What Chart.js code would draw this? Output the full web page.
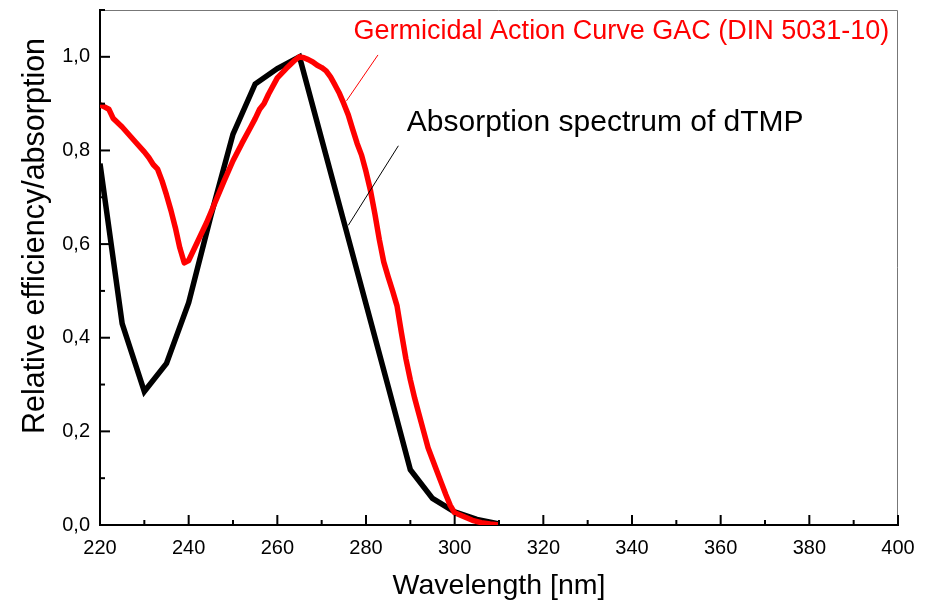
<!DOCTYPE html>
<html>
<head>
<meta charset="utf-8">
<script src="https://cdn.jsdelivr.net/npm/chart.js@4"></script>
<style>
  html, body { margin: 0; padding: 0; background: #fff; }
  #wrap { width: 928px; height: 603px; }
</style>
</head>
<body>
<div id="wrap"><canvas id="chart"></canvas></div>
<script>
// absorption spectrum of dTMP (black)
let dtmpWavelengths = [220, 225, 230, 235, 240, 245, 250, 255, 260, 265, 270, 275, 280, 285, 290, 295, 300, 305, 310];
let dtmpValues = [0.772, 0.43, 0.285, 0.345, 0.475, 0.66, 0.835, 0.942, 0.975, 1.0, 0.824, 0.648, 0.472, 0.296, 0.118, 0.057, 0.028, 0.012, 0.002];

// germicidal action curve GAC, DIN 5031-10 (red)
let gacWavelengths = [220, 221, 222, 223, 225, 228, 230, 231, 232, 233, 234, 235, 236, 237, 238, 239, 240, 242, 244, 246, 248, 250, 252, 254, 255, 256, 257, 258, 260, 262, 264, 265,
    266, 267, 268, 269, 270, 271, 272, 273, 274, 275, 276, 277, 278, 279, 280, 281, 282, 283, 284, 285, 286, 287, 288, 289, 290,
    291, 292, 293, 294, 295, 296, 297, 298, 299, 300, 302, 304, 306, 308, 310];
let gacValues = [0.898, 0.893, 0.888, 0.868, 0.85, 0.818, 0.797, 0.785, 0.77, 0.76, 0.735, 0.705, 0.672, 0.635, 0.592, 0.56, 0.565, 0.605, 0.645, 0.69, 0.735, 0.778, 0.815, 0.85, 0.868, 0.888, 0.9, 0.92, 0.955, 0.975, 0.993, 1.0,
    0.998, 0.994, 0.989, 0.982, 0.977, 0.97, 0.957, 0.94, 0.922, 0.9, 0.876, 0.845, 0.815, 0.79, 0.755, 0.715, 0.665, 0.61, 0.562, 0.53, 0.5, 0.468, 0.41, 0.355, 0.31,
    0.27, 0.235, 0.2, 0.165, 0.14, 0.115, 0.09, 0.065, 0.042, 0.026, 0.018, 0.01, 0.005, 0.002, 0.0];

let xTickLabels = ["220", "240", "260", "280", "300", "320", "340", "360", "380", "400"];
let yTickLabels = ["0,0", "0,2", "0,4", "0,6", "0,8", "1,0"];

// annotation text + leader line, given in data units
let notes = [
    { text: "Germicidal Action Curve GAC (DIN 5031-10)", color: "#ff0000", size: 27, x: 277.2, y: 1.054, from: [282.7, 1.004], to: [275.6, 0.906] },
    { text: "Absorption spectrum of dTMP", color: "#000000", size: 30, x: 289.2, y: 0.86, from: [287.3, 0.81], to: [276.0, 0.64] }
];

function toPoints(xs, ys) {
    return xs.map((x, i) => ({ x: x, y: ys[i] }));
}

let fontFamily = "'Liberation Sans', Arial, sans-serif";

// inward ticks, thin frame, y title and the two labels
let decorations = {
    id: "decorations",
    afterDraw(chart) {
        let ctx = chart.ctx;
        let xs = chart.scales.x, ys = chart.scales.y;
        let area = chart.chartArea;
        ctx.save();

        // thin frame on top and right
        ctx.strokeStyle = "#777";
        ctx.lineWidth = 1;
        ctx.beginPath();
        ctx.moveTo(area.left, area.top + 0.5);
        ctx.lineTo(area.right - 0.5, area.top + 0.5);
        ctx.lineTo(area.right - 0.5, area.bottom);
        ctx.stroke();

        ctx.strokeStyle = "#000";
        ctx.lineWidth = 2;
        xs.ticks.forEach((t, i) => {
            let px = xs.getPixelForTick(i);
            let len = (t.value - 220) % 20 === 0 ? 10 : 5;
            ctx.beginPath();
            ctx.moveTo(px, area.bottom);
            ctx.lineTo(px, area.bottom - len);
            ctx.stroke();
        });
        ys.ticks.forEach((t, i) => {
            let py = ys.getPixelForTick(i);
            let len = Math.round(t.value * 10) % 2 === 0 ? 10 : 5;
            ctx.beginPath();
            ctx.moveTo(area.left, py);
            ctx.lineTo(area.left + len, py);
            ctx.stroke();
        });

        // y axis title
        ctx.fillStyle = "#000";
        ctx.font = "30.5px " + fontFamily;
        ctx.textAlign = "center";
        ctx.textBaseline = "middle";
        ctx.translate(36, 236);
        ctx.rotate(-Math.PI / 2);
        ctx.fillText("Relative efficiency/absorption", 0, 0);
        ctx.setTransform(1, 0, 0, 1, 0, 0);

        notes.forEach(n => {
            ctx.strokeStyle = n.color;
            ctx.lineWidth = 1;
            ctx.beginPath();
            ctx.moveTo(xs.getPixelForValue(n.from[0]), ys.getPixelForValue(n.from[1]));
            ctx.lineTo(xs.getPixelForValue(n.to[0]), ys.getPixelForValue(n.to[1]));
            ctx.stroke();
            ctx.fillStyle = n.color;
            ctx.font = n.size + "px " + fontFamily;
            ctx.textAlign = "left";
            ctx.textBaseline = "middle";
            ctx.fillText(n.text, xs.getPixelForValue(n.x), ys.getPixelForValue(n.y));
        });
        ctx.restore();
    }
};

let ctx = document.getElementById("chart").getContext("2d");

let chart = new Chart(ctx, {
    type: "line",
    data: {
        datasets: [
            {
                label: "Germicidal Action Curve GAC (DIN 5031-10)",
                data: toPoints(gacWavelengths, gacValues),
                borderColor: "#ff0000",
                borderWidth: 5.5,
                borderJoinStyle: "round",
                pointRadius: 0,
                tension: 0,
                order: 0,
            },
            {
                label: "Absorption spectrum of dTMP",
                data: toPoints(dtmpWavelengths, dtmpValues),
                borderColor: "#000000",
                borderWidth: 5.5,
                pointRadius: 0,
                tension: 0,
                order: 1,
            }
        ]
    },
    options: {
        responsive: true,
        maintainAspectRatio: false,
        animation: false,
        layout: { padding: { top: 10, right: 30, left: 0, bottom: 0 } },
        plugins: { legend: { display: false }, tooltip: { enabled: false } },
        scales: {
            x: {
                type: "linear",
                min: 220,
                max: 400,
                ticks: {
                    stepSize: 10,
                    autoSkip: false,
                    maxRotation: 0,
                    padding: 11,
                    color: "#000",
                    font: { size: 20, family: fontFamily },
                    callback: v => xTickLabels.includes(String(v)) ? String(v) : ""
                },
                grid: { drawOnChartArea: false, drawTicks: false },
                border: { color: "#000", width: 2 },
                title: {
                    display: true,
                    text: "Wavelength [nm]",
                    color: "#000",
                    font: { size: 28.5, family: fontFamily },
                    padding: { top: 0, bottom: 0 }
                },
                afterFit: s => { s.height = 78; s.paddingLeft = 0; s.paddingRight = 0; }
            },
            y: {
                min: 0,
                max: 1.1,
                ticks: {
                    stepSize: 0.1,
                    autoSkip: false,
                    padding: 10,
                    color: "#000",
                    font: { size: 20, family: fontFamily },
                    callback: v => {
                        let label = (Math.round(v * 10) / 10).toFixed(1).replace(".", ",");
                        return yTickLabels.includes(label) ? label : "";
                    }
                },
                grid: { drawOnChartArea: false, drawTicks: false },
                border: { color: "#000", width: 2 },
                afterFit: s => { s.width = 100; s.paddingTop = 0; s.paddingBottom = 0; }
            }
        }
    },
    plugins: [decorations]
});
</script>
</body>
</html>
